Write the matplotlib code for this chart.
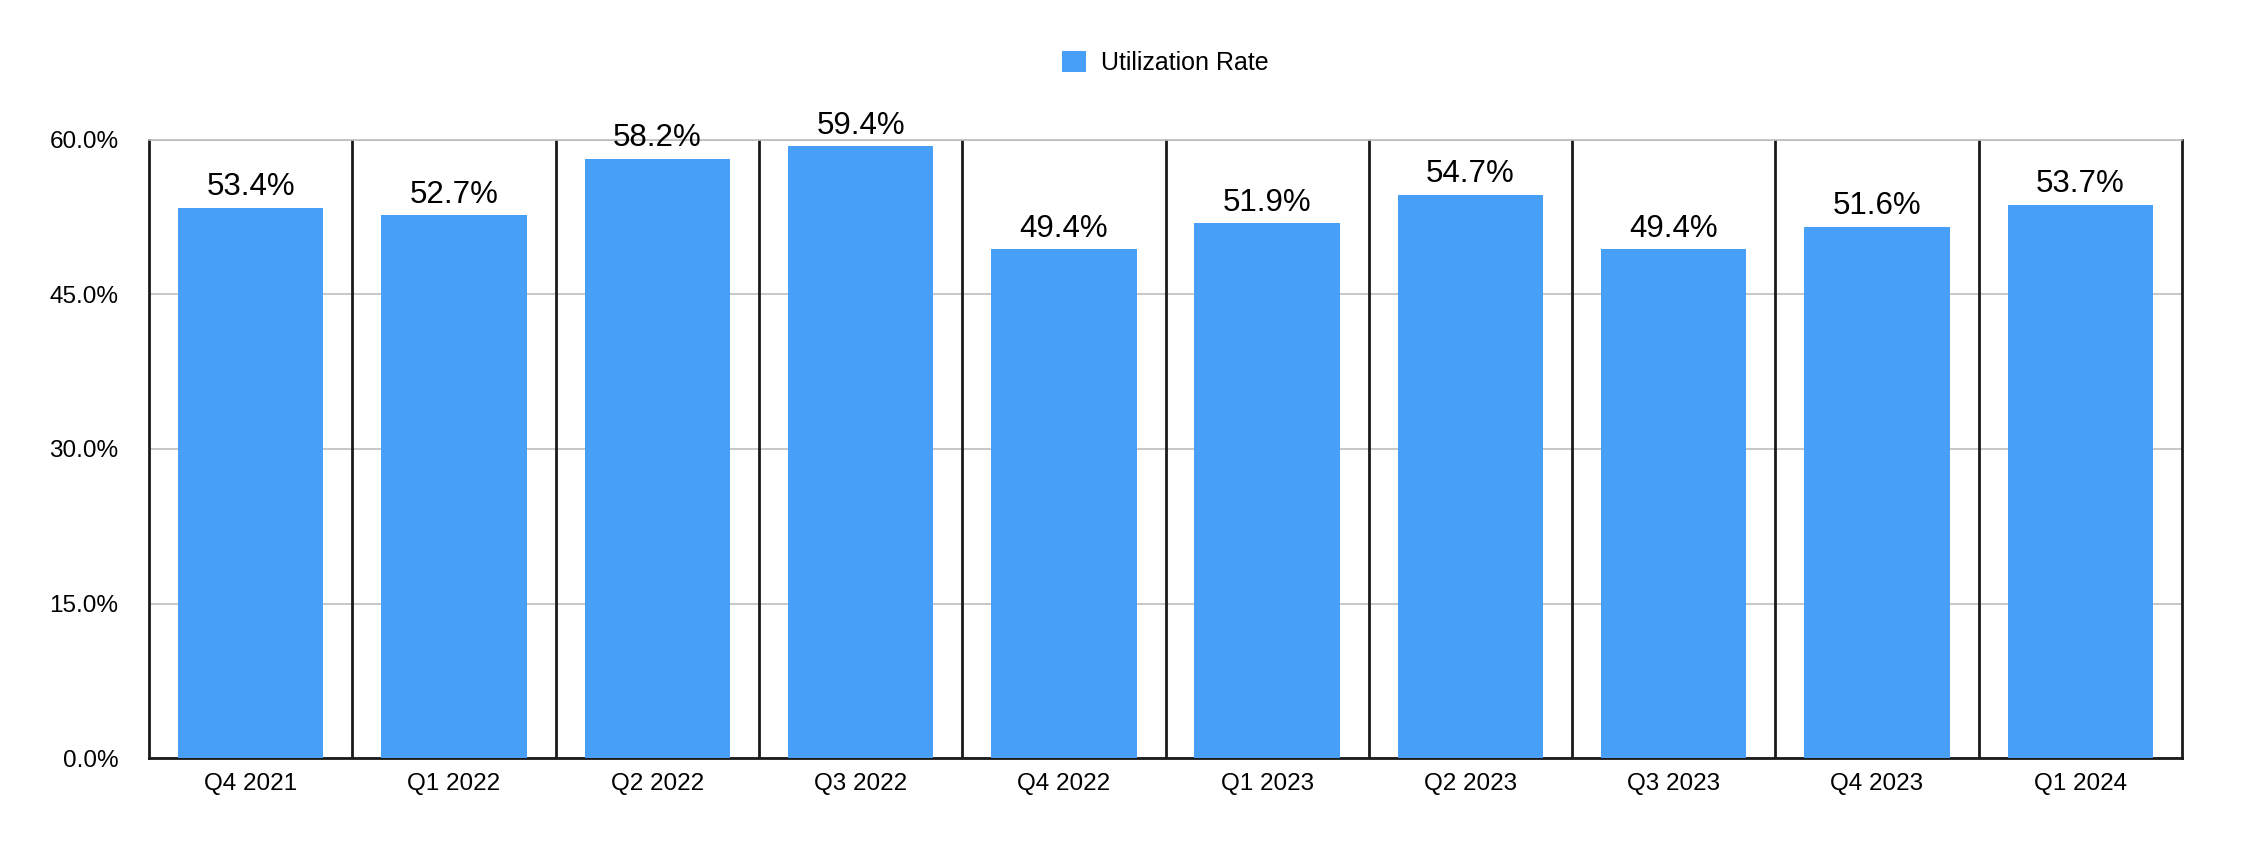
import matplotlib
matplotlib.use("Agg")
import matplotlib.pyplot as plt
import numpy as np

# Quarterly utilization rate (%)
quarters = ["Q4 2021", "Q1 2022", "Q2 2022", "Q3 2022", "Q4 2022",
            "Q1 2023", "Q2 2023", "Q3 2023", "Q4 2023", "Q1 2024"]
utilization = [53.4, 52.7, 58.2, 59.4, 49.4, 51.9, 54.7, 49.4, 51.6, 53.7]
yticks = [0, 15, 30, 45, 60]

plt.rcParams['font.family'] = ['Liberation Sans', 'DejaVu Sans']

fig = plt.figure(figsize=(22.44, 8.46), dpi=100)
ax = fig.add_axes([149/2244, 1-758/846, (2182-149)/2244, (758-140)/846])

x = np.arange(len(quarters))
bars = ax.bar(x, utilization, width=0.715, color='#489FF8', label='Utilization Rate', zorder=3)

ax.set_xlim(-0.5, len(quarters)-0.5)
ax.set_ylim(0, 60)
ax.set_yticks(yticks)
ax.set_yticklabels(["%.1f%%" % v for v in yticks], fontsize=17.5)
ax.set_xticks(x)
ax.set_xticklabels(quarters, fontsize=17.5)
ax.tick_params(axis='both', length=0)
ax.tick_params(axis='y', pad=22)
ax.tick_params(axis='x', pad=11)

#gridlines and category separators
ax.grid(axis='y', color='#bdbdbd', linewidth=1.2, zorder=0)
for b in np.arange(0.5, len(quarters)-1, 1.0):
    ax.axvline(b, color='#1a1a1a', linewidth=2, zorder=2)

for s in ['left', 'right', 'bottom']:
    ax.spines[s].set_color('#1a1a1a')
    ax.spines[s].set_linewidth(2)
ax.spines['top'].set_color('#bdbdbd')
ax.spines['top'].set_linewidth(1.2)

#value labels
for xi, v in zip(x, utilization):
    ax.annotate("%.1f%%" % v, (xi, v), xytext=(0, 4), textcoords='offset points',
                ha='center', va='bottom', fontsize=22.5)

fig.legend(handles=[bars], labels=['Utilization Rate'], loc='center',
           bbox_to_anchor=((149+2182)/2/2244, 1-63/846), frameon=False,
           fontsize=18, handlelength=0.95, handleheight=0.95, handletextpad=0.6)

fig.savefig("out.png", dpi=100)
